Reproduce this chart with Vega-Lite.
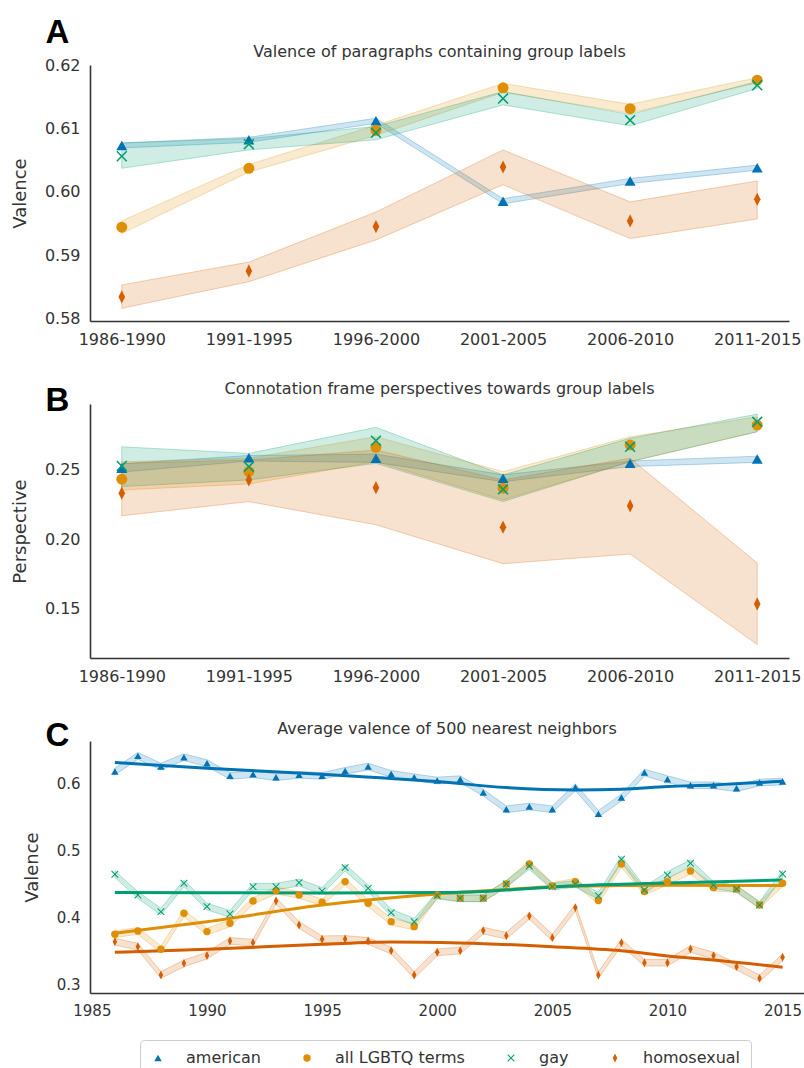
{
  "$schema": "https://vega.github.io/schema/vega-lite/v6.json",
  "background": "white",
  "padding": {"left": 11, "top": 16, "right": 0, "bottom": 0},
  "bounds": "flush",
  "spacing": 83,
  "datasets": {
    "A": [
      {"period": "1986-1990", "term": "american", "v": 0.6073, "lo": 0.6069, "hi": 0.6077},
      {"period": "1991-1995", "term": "american", "v": 0.6082, "lo": 0.6078, "hi": 0.6086},
      {"period": "1996-2000", "term": "american", "v": 0.6112, "lo": 0.6108, "hi": 0.6116},
      {"period": "2001-2005", "term": "american", "v": 0.5985, "lo": 0.5981, "hi": 0.5989},
      {"period": "2006-2010", "term": "american", "v": 0.6017, "lo": 0.6013, "hi": 0.6021},
      {"period": "2011-2015", "term": "american", "v": 0.6038, "lo": 0.6034, "hi": 0.6042},
      {"period": "1986-1990", "term": "all LGBTQ terms", "v": 0.5944, "lo": 0.5934, "hi": 0.5954},
      {"period": "1991-1995", "term": "all LGBTQ terms", "v": 0.6037, "lo": 0.6031, "hi": 0.6043},
      {"period": "1996-2000", "term": "all LGBTQ terms", "v": 0.6097, "lo": 0.6089, "hi": 0.6105},
      {"period": "2001-2005", "term": "all LGBTQ terms", "v": 0.6164, "lo": 0.6157, "hi": 0.6171},
      {"period": "2006-2010", "term": "all LGBTQ terms", "v": 0.6131, "lo": 0.6124, "hi": 0.6138},
      {"period": "2011-2015", "term": "all LGBTQ terms", "v": 0.6176, "lo": 0.6172, "hi": 0.6180},
      {"period": "1986-1990", "term": "gay", "v": 0.6056, "lo": 0.6037, "hi": 0.6077},
      {"period": "1991-1995", "term": "gay", "v": 0.6075, "lo": 0.6066, "hi": 0.6084},
      {"period": "1996-2000", "term": "gay", "v": 0.6093, "lo": 0.6082, "hi": 0.6103},
      {"period": "2001-2005", "term": "gay", "v": 0.6147, "lo": 0.6137, "hi": 0.6158},
      {"period": "2006-2010", "term": "gay", "v": 0.6113, "lo": 0.6104, "hi": 0.6122},
      {"period": "2011-2015", "term": "gay", "v": 0.6168, "lo": 0.6163, "hi": 0.6174},
      {"period": "1986-1990", "term": "homosexual", "v": 0.5834, "lo": 0.5816, "hi": 0.5853},
      {"period": "1991-1995", "term": "homosexual", "v": 0.5875, "lo": 0.5858, "hi": 0.5889},
      {"period": "1996-2000", "term": "homosexual", "v": 0.5945, "lo": 0.5924, "hi": 0.5968},
      {"period": "2001-2005", "term": "homosexual", "v": 0.6039, "lo": 0.6011, "hi": 0.6066},
      {"period": "2006-2010", "term": "homosexual", "v": 0.5954, "lo": 0.5926, "hi": 0.5984},
      {"period": "2011-2015", "term": "homosexual", "v": 0.5988, "lo": 0.5957, "hi": 0.6017}
    ],
    "B": [
      {"period": "1986-1990", "term": "american", "v": 0.2512, "lo": 0.2485, "hi": 0.2545},
      {"period": "1991-1995", "term": "american", "v": 0.2589, "lo": 0.2565, "hi": 0.2605},
      {"period": "1996-2000", "term": "american", "v": 0.2585, "lo": 0.2555, "hi": 0.2615},
      {"period": "2001-2005", "term": "american", "v": 0.2440, "lo": 0.2415, "hi": 0.2465},
      {"period": "2006-2010", "term": "american", "v": 0.2548, "lo": 0.2525, "hi": 0.2565},
      {"period": "2011-2015", "term": "american", "v": 0.2580, "lo": 0.2555, "hi": 0.2600},
      {"period": "1986-1990", "term": "all LGBTQ terms", "v": 0.2433, "lo": 0.2355, "hi": 0.2560},
      {"period": "1991-1995", "term": "all LGBTQ terms", "v": 0.2488, "lo": 0.2399, "hi": 0.2585},
      {"period": "1996-2000", "term": "all LGBTQ terms", "v": 0.2664, "lo": 0.2560, "hi": 0.2741},
      {"period": "2001-2005", "term": "all LGBTQ terms", "v": 0.2368, "lo": 0.2283, "hi": 0.2488},
      {"period": "2006-2010", "term": "all LGBTQ terms", "v": 0.2681, "lo": 0.2560, "hi": 0.2740},
      {"period": "2011-2015", "term": "all LGBTQ terms", "v": 0.2825, "lo": 0.2777, "hi": 0.2885},
      {"period": "1986-1990", "term": "gay", "v": 0.2529, "lo": 0.2380, "hi": 0.2668},
      {"period": "1991-1995", "term": "gay", "v": 0.2524, "lo": 0.2428, "hi": 0.2620},
      {"period": "1996-2000", "term": "gay", "v": 0.2712, "lo": 0.2548, "hi": 0.2809},
      {"period": "2001-2005", "term": "gay", "v": 0.2360, "lo": 0.2271, "hi": 0.2464},
      {"period": "2006-2010", "term": "gay", "v": 0.2668, "lo": 0.2560, "hi": 0.2729},
      {"period": "2011-2015", "term": "gay", "v": 0.2849, "lo": 0.2777, "hi": 0.2905},
      {"period": "1986-1990", "term": "homosexual", "v": 0.2332, "lo": 0.2168, "hi": 0.2548},
      {"period": "1991-1995", "term": "homosexual", "v": 0.2428, "lo": 0.2271, "hi": 0.2572},
      {"period": "1996-2000", "term": "homosexual", "v": 0.2372, "lo": 0.2103, "hi": 0.2645},
      {"period": "2001-2005", "term": "homosexual", "v": 0.2086, "lo": 0.1821, "hi": 0.2428},
      {"period": "2006-2010", "term": "homosexual", "v": 0.2240, "lo": 0.1891, "hi": 0.2585},
      {"period": "2011-2015", "term": "homosexual", "v": 0.1530, "lo": 0.1236, "hi": 0.1826}
    ],
    "C": [
      {"year": 1986, "term": "american", "v": 0.6175, "lo": 0.6125, "hi": 0.6225},
      {"year": 1987, "term": "american", "v": 0.6408, "lo": 0.6358, "hi": 0.6458},
      {"year": 1988, "term": "american", "v": 0.6249, "lo": 0.6199, "hi": 0.6299},
      {"year": 1989, "term": "american", "v": 0.6388, "lo": 0.6338, "hi": 0.6438},
      {"year": 1990, "term": "american", "v": 0.6299, "lo": 0.6249, "hi": 0.6349},
      {"year": 1991, "term": "american", "v": 0.6110, "lo": 0.6060, "hi": 0.6160},
      {"year": 1992, "term": "american", "v": 0.6135, "lo": 0.6085, "hi": 0.6185},
      {"year": 1993, "term": "american", "v": 0.6090, "lo": 0.6040, "hi": 0.6140},
      {"year": 1994, "term": "american", "v": 0.6125, "lo": 0.6075, "hi": 0.6175},
      {"year": 1995, "term": "american", "v": 0.6110, "lo": 0.6060, "hi": 0.6160},
      {"year": 1996, "term": "american", "v": 0.6185, "lo": 0.6135, "hi": 0.6235},
      {"year": 1997, "term": "american", "v": 0.6249, "lo": 0.6199, "hi": 0.6299},
      {"year": 1998, "term": "american", "v": 0.6140, "lo": 0.6090, "hi": 0.6190},
      {"year": 1999, "term": "american", "v": 0.6090, "lo": 0.6040, "hi": 0.6140},
      {"year": 2000, "term": "american", "v": 0.6041, "lo": 0.5991, "hi": 0.6091},
      {"year": 2001, "term": "american", "v": 0.6061, "lo": 0.6011, "hi": 0.6111},
      {"year": 2002, "term": "american", "v": 0.5862, "lo": 0.5812, "hi": 0.5912},
      {"year": 2003, "term": "american", "v": 0.5614, "lo": 0.5564, "hi": 0.5664},
      {"year": 2004, "term": "american", "v": 0.5654, "lo": 0.5604, "hi": 0.5704},
      {"year": 2005, "term": "american", "v": 0.5614, "lo": 0.5564, "hi": 0.5664},
      {"year": 2006, "term": "american", "v": 0.5941, "lo": 0.5891, "hi": 0.5991},
      {"year": 2007, "term": "american", "v": 0.5545, "lo": 0.5495, "hi": 0.5595},
      {"year": 2008, "term": "american", "v": 0.5788, "lo": 0.5738, "hi": 0.5838},
      {"year": 2009, "term": "american", "v": 0.6160, "lo": 0.6110, "hi": 0.6210},
      {"year": 2010, "term": "american", "v": 0.6061, "lo": 0.6011, "hi": 0.6111},
      {"year": 2011, "term": "american", "v": 0.5971, "lo": 0.5921, "hi": 0.6021},
      {"year": 2012, "term": "american", "v": 0.5971, "lo": 0.5921, "hi": 0.6021},
      {"year": 2013, "term": "american", "v": 0.5927, "lo": 0.5877, "hi": 0.5977},
      {"year": 2014, "term": "american", "v": 0.6011, "lo": 0.5961, "hi": 0.6061},
      {"year": 2015, "term": "american", "v": 0.6026, "lo": 0.5976, "hi": 0.6076},
      {"year": 1986, "term": "all LGBTQ terms", "v": 0.3754, "lo": 0.3704, "hi": 0.3804},
      {"year": 1987, "term": "all LGBTQ terms", "v": 0.3804, "lo": 0.3754, "hi": 0.3854},
      {"year": 1988, "term": "all LGBTQ terms", "v": 0.3531, "lo": 0.3481, "hi": 0.3581},
      {"year": 1989, "term": "all LGBTQ terms", "v": 0.4066, "lo": 0.4016, "hi": 0.4116},
      {"year": 1990, "term": "all LGBTQ terms", "v": 0.3794, "lo": 0.3744, "hi": 0.3844},
      {"year": 1991, "term": "all LGBTQ terms", "v": 0.3918, "lo": 0.3868, "hi": 0.3968},
      {"year": 1992, "term": "all LGBTQ terms", "v": 0.4250, "lo": 0.4200, "hi": 0.4300},
      {"year": 1993, "term": "all LGBTQ terms", "v": 0.4404, "lo": 0.4354, "hi": 0.4454},
      {"year": 1994, "term": "all LGBTQ terms", "v": 0.4339, "lo": 0.4289, "hi": 0.4389},
      {"year": 1995, "term": "all LGBTQ terms", "v": 0.4230, "lo": 0.4180, "hi": 0.4280},
      {"year": 1996, "term": "all LGBTQ terms", "v": 0.4538, "lo": 0.4488, "hi": 0.4588},
      {"year": 1997, "term": "all LGBTQ terms", "v": 0.4215, "lo": 0.4165, "hi": 0.4265},
      {"year": 1998, "term": "all LGBTQ terms", "v": 0.3942, "lo": 0.3892, "hi": 0.3992},
      {"year": 1999, "term": "all LGBTQ terms", "v": 0.3868, "lo": 0.3818, "hi": 0.3918},
      {"year": 2000, "term": "all LGBTQ terms", "v": 0.4340, "lo": 0.4290, "hi": 0.4390},
      {"year": 2001, "term": "all LGBTQ terms", "v": 0.4290, "lo": 0.4240, "hi": 0.4340},
      {"year": 2002, "term": "all LGBTQ terms", "v": 0.4290, "lo": 0.4240, "hi": 0.4340},
      {"year": 2003, "term": "all LGBTQ terms", "v": 0.4503, "lo": 0.4453, "hi": 0.4553},
      {"year": 2004, "term": "all LGBTQ terms", "v": 0.4800, "lo": 0.4750, "hi": 0.4850},
      {"year": 2005, "term": "all LGBTQ terms", "v": 0.4473, "lo": 0.4423, "hi": 0.4523},
      {"year": 2006, "term": "all LGBTQ terms", "v": 0.4538, "lo": 0.4488, "hi": 0.4588},
      {"year": 2007, "term": "all LGBTQ terms", "v": 0.4255, "lo": 0.4205, "hi": 0.4305},
      {"year": 2008, "term": "all LGBTQ terms", "v": 0.4800, "lo": 0.4750, "hi": 0.4850},
      {"year": 2009, "term": "all LGBTQ terms", "v": 0.4389, "lo": 0.4339, "hi": 0.4439},
      {"year": 2010, "term": "all LGBTQ terms", "v": 0.4538, "lo": 0.4488, "hi": 0.4588},
      {"year": 2011, "term": "all LGBTQ terms", "v": 0.4696, "lo": 0.4646, "hi": 0.4746},
      {"year": 2012, "term": "all LGBTQ terms", "v": 0.4448, "lo": 0.4398, "hi": 0.4498},
      {"year": 2013, "term": "all LGBTQ terms", "v": 0.4429, "lo": 0.4379, "hi": 0.4479},
      {"year": 2014, "term": "all LGBTQ terms", "v": 0.4190, "lo": 0.4140, "hi": 0.4240},
      {"year": 2015, "term": "all LGBTQ terms", "v": 0.4513, "lo": 0.4463, "hi": 0.4563},
      {"year": 1986, "term": "gay", "v": 0.4647, "lo": 0.4597, "hi": 0.4697},
      {"year": 1987, "term": "gay", "v": 0.4339, "lo": 0.4289, "hi": 0.4389},
      {"year": 1988, "term": "gay", "v": 0.4091, "lo": 0.4041, "hi": 0.4141},
      {"year": 1989, "term": "gay", "v": 0.4513, "lo": 0.4463, "hi": 0.4563},
      {"year": 1990, "term": "gay", "v": 0.4166, "lo": 0.4116, "hi": 0.4216},
      {"year": 1991, "term": "gay", "v": 0.4057, "lo": 0.4007, "hi": 0.4107},
      {"year": 1992, "term": "gay", "v": 0.4463, "lo": 0.4413, "hi": 0.4513},
      {"year": 1993, "term": "gay", "v": 0.4463, "lo": 0.4413, "hi": 0.4513},
      {"year": 1994, "term": "gay", "v": 0.4523, "lo": 0.4473, "hi": 0.4573},
      {"year": 1995, "term": "gay", "v": 0.4399, "lo": 0.4349, "hi": 0.4449},
      {"year": 1996, "term": "gay", "v": 0.4746, "lo": 0.4696, "hi": 0.4796},
      {"year": 1997, "term": "gay", "v": 0.4438, "lo": 0.4388, "hi": 0.4488},
      {"year": 1998, "term": "gay", "v": 0.4076, "lo": 0.4026, "hi": 0.4126},
      {"year": 1999, "term": "gay", "v": 0.3942, "lo": 0.3892, "hi": 0.3992},
      {"year": 2000, "term": "gay", "v": 0.4330, "lo": 0.4280, "hi": 0.4380},
      {"year": 2001, "term": "gay", "v": 0.4290, "lo": 0.4240, "hi": 0.4340},
      {"year": 2002, "term": "gay", "v": 0.4290, "lo": 0.4240, "hi": 0.4340},
      {"year": 2003, "term": "gay", "v": 0.4503, "lo": 0.4453, "hi": 0.4553},
      {"year": 2004, "term": "gay", "v": 0.4771, "lo": 0.4721, "hi": 0.4821},
      {"year": 2005, "term": "gay", "v": 0.4463, "lo": 0.4413, "hi": 0.4513},
      {"year": 2006, "term": "gay", "v": 0.4503, "lo": 0.4453, "hi": 0.4553},
      {"year": 2007, "term": "gay", "v": 0.4329, "lo": 0.4279, "hi": 0.4379},
      {"year": 2008, "term": "gay", "v": 0.4870, "lo": 0.4820, "hi": 0.4920},
      {"year": 2009, "term": "gay", "v": 0.4414, "lo": 0.4364, "hi": 0.4464},
      {"year": 2010, "term": "gay", "v": 0.4637, "lo": 0.4587, "hi": 0.4687},
      {"year": 2011, "term": "gay", "v": 0.4811, "lo": 0.4761, "hi": 0.4861},
      {"year": 2012, "term": "gay", "v": 0.4488, "lo": 0.4438, "hi": 0.4538},
      {"year": 2013, "term": "gay", "v": 0.4429, "lo": 0.4379, "hi": 0.4479},
      {"year": 2014, "term": "gay", "v": 0.4190, "lo": 0.4140, "hi": 0.4240},
      {"year": 2015, "term": "gay", "v": 0.4652, "lo": 0.4602, "hi": 0.4702},
      {"year": 1986, "term": "homosexual", "v": 0.3645, "lo": 0.3595, "hi": 0.3695},
      {"year": 1987, "term": "homosexual", "v": 0.3570, "lo": 0.3520, "hi": 0.3620},
      {"year": 1988, "term": "homosexual", "v": 0.3149, "lo": 0.3099, "hi": 0.3199},
      {"year": 1989, "term": "homosexual", "v": 0.3322, "lo": 0.3272, "hi": 0.3372},
      {"year": 1990, "term": "homosexual", "v": 0.3437, "lo": 0.3387, "hi": 0.3487},
      {"year": 1991, "term": "homosexual", "v": 0.3655, "lo": 0.3605, "hi": 0.3705},
      {"year": 1992, "term": "homosexual", "v": 0.3630, "lo": 0.3580, "hi": 0.3680},
      {"year": 1993, "term": "homosexual", "v": 0.4250, "lo": 0.4200, "hi": 0.4300},
      {"year": 1994, "term": "homosexual", "v": 0.3893, "lo": 0.3843, "hi": 0.3943},
      {"year": 1995, "term": "homosexual", "v": 0.3680, "lo": 0.3630, "hi": 0.3730},
      {"year": 1996, "term": "homosexual", "v": 0.3685, "lo": 0.3635, "hi": 0.3735},
      {"year": 1997, "term": "homosexual", "v": 0.3655, "lo": 0.3605, "hi": 0.3705},
      {"year": 1998, "term": "homosexual", "v": 0.3511, "lo": 0.3461, "hi": 0.3561},
      {"year": 1999, "term": "homosexual", "v": 0.3149, "lo": 0.3099, "hi": 0.3199},
      {"year": 2000, "term": "homosexual", "v": 0.3486, "lo": 0.3436, "hi": 0.3536},
      {"year": 2001, "term": "homosexual", "v": 0.3511, "lo": 0.3461, "hi": 0.3561},
      {"year": 2002, "term": "homosexual", "v": 0.3809, "lo": 0.3759, "hi": 0.3859},
      {"year": 2003, "term": "homosexual", "v": 0.3734, "lo": 0.3684, "hi": 0.3784},
      {"year": 2004, "term": "homosexual", "v": 0.4027, "lo": 0.3977, "hi": 0.4077},
      {"year": 2005, "term": "homosexual", "v": 0.3704, "lo": 0.3654, "hi": 0.3754},
      {"year": 2006, "term": "homosexual", "v": 0.4151, "lo": 0.4101, "hi": 0.4201},
      {"year": 2007, "term": "homosexual", "v": 0.3149, "lo": 0.3099, "hi": 0.3199},
      {"year": 2008, "term": "homosexual", "v": 0.3630, "lo": 0.3580, "hi": 0.3680},
      {"year": 2009, "term": "homosexual", "v": 0.3332, "lo": 0.3282, "hi": 0.3382},
      {"year": 2010, "term": "homosexual", "v": 0.3332, "lo": 0.3282, "hi": 0.3382},
      {"year": 2011, "term": "homosexual", "v": 0.3536, "lo": 0.3486, "hi": 0.3586},
      {"year": 2012, "term": "homosexual", "v": 0.3437, "lo": 0.3387, "hi": 0.3487},
      {"year": 2013, "term": "homosexual", "v": 0.3273, "lo": 0.3223, "hi": 0.3323},
      {"year": 2014, "term": "homosexual", "v": 0.3099, "lo": 0.3049, "hi": 0.3149},
      {"year": 2015, "term": "homosexual", "v": 0.3412, "lo": 0.3362, "hi": 0.3462}
    ],
    "S": [
      {"year": 1986, "term": "american", "v": 0.6308},
      {"year": 1990, "term": "american", "v": 0.6224},
      {"year": 1995, "term": "american", "v": 0.6135},
      {"year": 2000, "term": "american", "v": 0.6026},
      {"year": 2003, "term": "american", "v": 0.5937},
      {"year": 2006, "term": "american", "v": 0.5902},
      {"year": 2008, "term": "american", "v": 0.5912},
      {"year": 2010, "term": "american", "v": 0.5952},
      {"year": 2012, "term": "american", "v": 0.5976},
      {"year": 2015, "term": "american", "v": 0.6030},
      {"year": 1986, "term": "all LGBTQ terms", "v": 0.3769},
      {"year": 1990, "term": "all LGBTQ terms", "v": 0.3942},
      {"year": 1995, "term": "all LGBTQ terms", "v": 0.4190},
      {"year": 2000, "term": "all LGBTQ terms", "v": 0.4354},
      {"year": 2003, "term": "all LGBTQ terms", "v": 0.4420},
      {"year": 2005, "term": "all LGBTQ terms", "v": 0.4463},
      {"year": 2008, "term": "all LGBTQ terms", "v": 0.4478},
      {"year": 2010, "term": "all LGBTQ terms", "v": 0.4483},
      {"year": 2015, "term": "all LGBTQ terms", "v": 0.4478},
      {"year": 1986, "term": "gay", "v": 0.4374},
      {"year": 1995, "term": "gay", "v": 0.4370},
      {"year": 2000, "term": "gay", "v": 0.4375},
      {"year": 2002, "term": "gay", "v": 0.4390},
      {"year": 2004, "term": "gay", "v": 0.4435},
      {"year": 2006, "term": "gay", "v": 0.4475},
      {"year": 2008, "term": "gay", "v": 0.4498},
      {"year": 2011, "term": "gay", "v": 0.4525},
      {"year": 2015, "term": "gay", "v": 0.4563},
      {"year": 1986, "term": "homosexual", "v": 0.3486},
      {"year": 1990, "term": "homosexual", "v": 0.3531},
      {"year": 1995, "term": "homosexual", "v": 0.3605},
      {"year": 1998, "term": "homosexual", "v": 0.3640},
      {"year": 2001, "term": "homosexual", "v": 0.3625},
      {"year": 2005, "term": "homosexual", "v": 0.3570},
      {"year": 2008, "term": "homosexual", "v": 0.3510},
      {"year": 2010, "term": "homosexual", "v": 0.3432},
      {"year": 2012, "term": "homosexual", "v": 0.3372},
      {"year": 2015, "term": "homosexual", "v": 0.3263}
    ]
  },
  "config": {
    "view": {"stroke": null},
    "font": "DejaVu Sans",
    "axis": {
      "domainColor": "#333333", "domainWidth": 1.6, "ticks": false, "tickSize": 0, "grid": false,
      "labelFont": "DejaVu Sans", "labelFontSize": 16, "labelColor": "#333333", "labelPadding": 10,
      "titleFont": "DejaVu Sans", "titleFontSize": 18, "titleFontWeight": "normal", "titleColor": "#333333", "titlePadding": 15
    },
    "title": {"font": "DejaVu Sans", "fontSize": 16, "fontWeight": "normal", "color": "#333333", "anchor": "middle"},
    "legend": {"orient": "none", "legendX": 50, "legendY": 975, "direction": "horizontal", "columns": 4, "columnPadding": 38, "symbolSize": 55, "labelFontSize": 16, "labelFont": "DejaVu Sans", "labelColor": "#333333", "labelOffset": 20, "padding": 10, "strokeColor": "#cccccc", "cornerRadius": 4, "fillColor": "white", "symbolStrokeWidth": 0, "symbolOpacity": 1}
  },
  "vconcat": [
    {
      "width": 699, "height": 256,
      "title": {"text": "Valence of paragraphs containing group labels", "offset": -44},
      "layer": [
        {
          "data": {"name": "A"},
          "mark": {"type": "area", "fillOpacity": 0.19, "strokeWidth": 1, "strokeOpacity": 0.28},
          "encoding": {
            "x": {"field": "period", "type": "ordinal", "scale": {"type": "point", "padding": 0.25},
                  "axis": {"labelAngle": 0, "title": "A", "titleX": -45, "titleY": -279, "titleAlign": "left", "titleBaseline": "alphabetic", "titleFont": "Liberation Sans", "titleFontSize": 33, "titleFontWeight": "bold", "titleColor": "black"}},
            "y": {"field": "lo", "type": "quantitative", "scale": {"domain": [0.5796, 0.62], "nice": false, "zero": false},
                  "axis": {"title": "Valence", "values": [0.58, 0.59, 0.6, 0.61, 0.62], "format": ".2f"}},
            "y2": {"field": "hi"},
            "fill": {"field": "term", "type": "nominal", "title": null, "scale": {"domain": ["american", "all LGBTQ terms", "gay", "homosexual"], "range": ["#0173B2", "#DE8F05", "#029E73", "#D55E00"]}},
            "stroke": {"field": "term", "type": "nominal", "title": null, "scale": {"domain": ["american", "all LGBTQ terms", "gay", "homosexual"], "range": ["#0173B2", "#DE8F05", "#029E73", "#D55E00"]}}
          }
        },
        {
          "data": {"name": "A"},
          "mark": {"type": "point", "filled": true, "size": 120, "opacity": 1},
          "encoding": {
            "x": {"field": "period", "type": "ordinal"},
            "y": {"field": "v", "type": "quantitative"},
            "color": {"field": "term", "type": "nominal", "title": null, "scale": {"domain": ["american", "all LGBTQ terms", "gay", "homosexual"], "range": ["#0173B2", "#DE8F05", "#029E73", "#D55E00"]}},
            "shape": {"field": "term", "type": "nominal", "title": null, "scale": {"domain": ["american", "all LGBTQ terms", "gay", "homosexual"], "range": ["triangle-up", "circle", "M-1,-0.8L-0.8,-1L0,-0.2L0.8,-1L1,-0.8L0.2,0L1,0.8L0.8,1L0,0.2L-0.8,1L-1,0.8L-0.2,0Z", "M0,-1.2L0.6,0L0,1.2L-0.6,0Z"]}}
          }
        }
      ]
    },
    {
      "width": 699, "height": 254,
      "title": {"text": "Connotation frame perspectives towards group labels", "offset": -13},
      "layer": [
        {
          "data": {"name": "B"},
          "mark": {"type": "area", "fillOpacity": 0.19, "strokeWidth": 1, "strokeOpacity": 0.28},
          "encoding": {
            "x": {"field": "period", "type": "ordinal", "scale": {"type": "point", "padding": 0.25},
                  "axis": {"labelAngle": 0, "title": "B", "titleX": -45, "titleY": -248, "titleAlign": "left", "titleBaseline": "alphabetic", "titleFont": "Liberation Sans", "titleFontSize": 33, "titleFontWeight": "bold", "titleColor": "black"}},
            "y": {"field": "lo", "type": "quantitative", "scale": {"domain": [0.1138, 0.2978], "nice": false, "zero": false},
                  "axis": {"title": "Perspective", "values": [0.15, 0.2, 0.25], "format": ".2f"}},
            "y2": {"field": "hi"},
            "fill": {"field": "term", "type": "nominal", "title": null},
            "stroke": {"field": "term", "type": "nominal", "title": null}
          }
        },
        {
          "data": {"name": "B"},
          "mark": {"type": "point", "filled": true, "size": 120, "opacity": 1},
          "encoding": {
            "x": {"field": "period", "type": "ordinal"},
            "y": {"field": "v", "type": "quantitative"},
            "color": {"field": "term", "type": "nominal", "title": null},
            "shape": {"field": "term", "type": "nominal", "title": null}
          }
        }
      ]
    },
    {
      "width": 714, "height": 252,
      "title": {"text": "Average valence of 500 nearest neighbors", "offset": -18},
      "layer": [
        {
          "data": {"name": "C"},
          "mark": {"type": "area", "fillOpacity": 0.19, "strokeWidth": 1, "strokeOpacity": 0.28},
          "encoding": {
            "x": {"field": "year", "type": "quantitative", "scale": {"domain": [1984.92, 2015.93], "nice": false, "zero": false},
                  "axis": {"values": [1985, 1990, 1995, 2000, 2005, 2010, 2015], "format": "d", "labelFontSize": 15, "title": "C", "titleX": -45, "titleY": -248, "titleAlign": "left", "titleBaseline": "alphabetic", "titleFont": "Liberation Sans", "titleFontSize": 33, "titleFontWeight": "bold", "titleColor": "black"}},
            "y": {"field": "lo", "type": "quantitative", "scale": {"domain": [0.2881, 0.6629], "nice": false, "zero": false},
                  "axis": {"title": "Valence", "values": [0.3, 0.4, 0.5, 0.6], "format": ".1f", "labelFontSize": 15}},
            "y2": {"field": "hi"},
            "fill": {"field": "term", "type": "nominal", "title": null},
            "stroke": {"field": "term", "type": "nominal", "title": null}
          }
        },
        {
          "data": {"name": "S"},
          "mark": {"type": "line", "strokeWidth": 3, "interpolate": "monotone"},
          "encoding": {
            "x": {"field": "year", "type": "quantitative"},
            "y": {"field": "v", "type": "quantitative"},
            "stroke": {"field": "term", "type": "nominal", "title": null}
          }
        },
        {
          "data": {"name": "C"},
          "mark": {"type": "point", "filled": true, "size": 55, "opacity": 1},
          "encoding": {
            "x": {"field": "year", "type": "quantitative"},
            "y": {"field": "v", "type": "quantitative"},
            "color": {"field": "term", "type": "nominal", "title": null},
            "shape": {"field": "term", "type": "nominal", "title": null}
          }
        }
      ]
    }
  ]
}
